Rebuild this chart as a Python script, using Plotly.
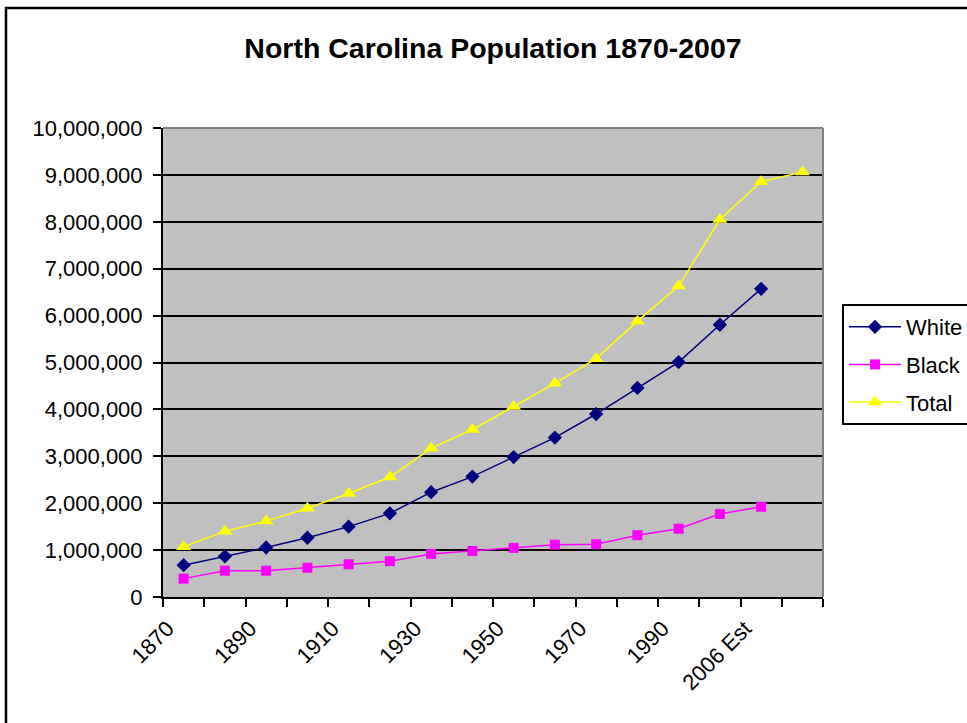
import plotly.graph_objects as go

categories = ["1870", "1880", "1890", "1900", "1910", "1920", "1930", "1940",
              "1950", "1960", "1970", "1980", "1990", "2000", "2006 Est", "2007"]
white = [678470, 867242, 1055382, 1263603, 1500511, 1783779, 2234948, 2567635,
         2983121, 3399285, 3901767, 4457507, 5008491, 5804656, 6570000, None]
black = [391650, 561018, 561018, 624469, 697843, 763407, 918647, 981298,
         1047353, 1116021, 1126478, 1318857, 1456323, 1770000, 1925000, None]
total = [1071361, 1399750, 1617949, 1893810, 2206287, 2559123, 3170276, 3571623,
         4061929, 4556155, 5082059, 5881766, 6628637, 8049313, 8856505, 9061032]
tick_labels = [c if i % 2 == 0 else "" for i, c in enumerate(categories)]

W, H = 967, 723
L, R, T, B = 163, 144, 128, 126
pw, ph = W - L - R, H - T - B
FONT = "Arial, Liberation Sans, sans-serif"

def px_x(p):
    return (p - L) / pw

def px_y(p):
    return (H - B - p) / ph

fig = go.Figure()
fig.add_trace(go.Scatter(x=categories, y=white, name="White", mode="lines+markers",
                         legendgroup="w",
                         line=dict(color="#000080", width=1.5),
                         marker=dict(symbol="diamond", size=11, color="#000080")))
fig.add_trace(go.Scatter(x=categories, y=black, name="Black", mode="lines+markers",
                         legendgroup="b",
                         line=dict(color="#FF00FF", width=1.5),
                         marker=dict(symbol="square", size=10, color="#FF00FF")))
fig.add_trace(go.Scatter(x=categories, y=total, name="Total", mode="lines+markers",
                         legendgroup="t",
                         line=dict(color="#FFFF00", width=1.5),
                         marker=dict(symbol="triangle-up", size=13, color="#FFFF00")))

fig.update_layout(
    width=W, height=H,
    margin=dict(l=L, r=R, t=T, b=B, autoexpand=False),
    paper_bgcolor="white", plot_bgcolor="#C0C0C0",
    font=dict(family=FONT, color="black", size=22),
    title=dict(text="<b>North Carolina Population 1870-2007</b>",
               x=493 / W, xanchor="center", y=1 - 48 / H, yanchor="middle",
               font=dict(size=28.5, family=FONT, color="black")),
    legend=dict(x=px_x(842), xanchor="left", y=px_y(304), yanchor="top",
                bgcolor="white", bordercolor="black", borderwidth=2,
                font=dict(size=22, family=FONT), tracegroupgap=6,
                itemwidth=52),
    xaxis=dict(type="category", categoryorder="array", categoryarray=categories,
               tickmode="array", tickvals=categories, ticktext=tick_labels,
               tickson="boundaries", ticks="outside", ticklen=8, tickwidth=2,
               tickcolor="black", tickangle=-45, showgrid=False,
               ticklabelstandoff=8, ticklabelshift=-16,
               showline=True, linecolor="black", linewidth=2,
               range=[-0.5, len(categories) - 0.5], zeroline=False,
               tickfont=dict(size=22, family=FONT)),
    yaxis=dict(range=[0, 10000000], dtick=1000000, tickformat=",d",
               showgrid=True, gridcolor="black", gridwidth=2,
               ticks="outside", ticklen=8, tickwidth=2, tickcolor="black",
               showline=True, linecolor="black", linewidth=2, zeroline=False,
               ticklabelstandoff=6, tickfont=dict(size=22, family=FONT)),
    shapes=[
        dict(type="line", xref="paper", yref="paper", x0=0, x1=1, y0=1, y1=1,
             line=dict(color="#808080", width=2), layer="above"),
        dict(type="line", xref="paper", yref="paper", x0=1, x1=1, y0=0, y1=1,
             line=dict(color="#808080", width=2), layer="above"),
        dict(type="line", xref="paper", yref="paper", x0=px_x(6), x1=px_x(6),
             y0=px_y(7), y1=px_y(H + 5), line=dict(color="black", width=2.5)),
        dict(type="line", xref="paper", yref="paper", x0=px_x(5), x1=px_x(W + 5),
             y0=px_y(8), y1=px_y(8), line=dict(color="black", width=2.5)),
    ],
)

fig.write_html("out.html")
